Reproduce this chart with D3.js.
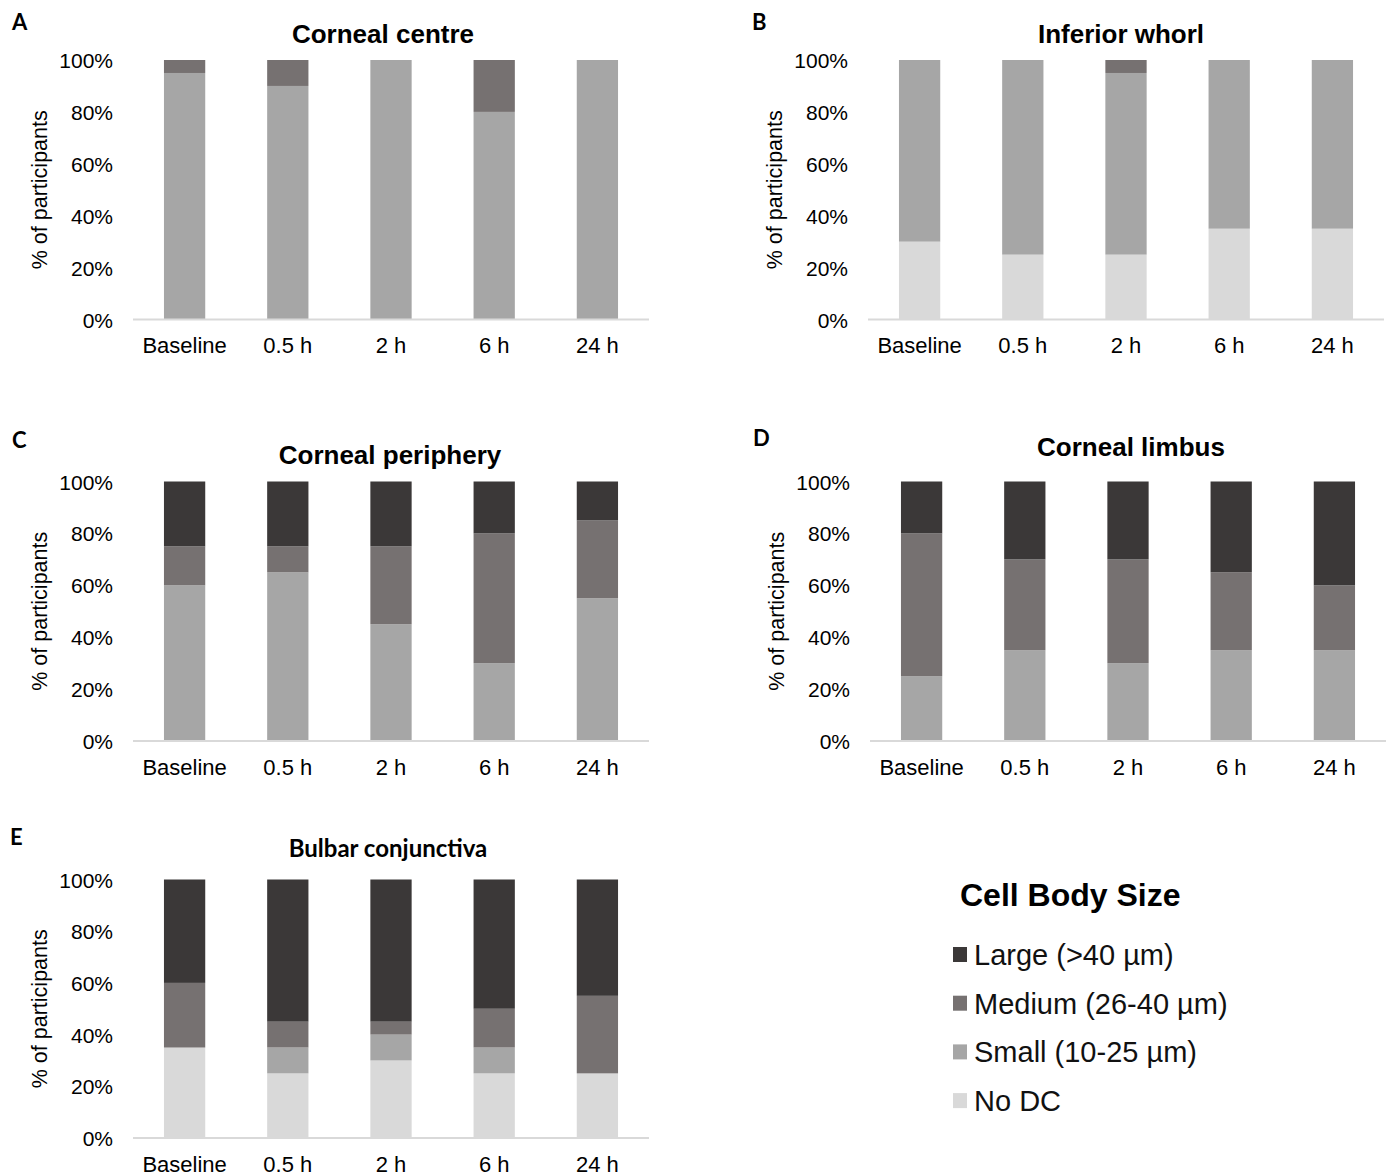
<!DOCTYPE html>
<html>
<head>
<meta charset="utf-8">
<script src="https://cdn.jsdelivr.net/npm/d3@7"></script>
<style>
  html, body { margin: 0; padding: 0; background: #fff; }
  svg { display: block; }
  .tick-label { font-family: "Liberation Sans", Arial, sans-serif; font-size: 21px; fill: #000; }
  .cat-label { font-family: "Liberation Sans", Arial, sans-serif; font-size: 22px; fill: #000; }
  .panel-title { font-family: "Liberation Sans", Arial, sans-serif; font-weight: bold; font-size: 26px; fill: #000; }
  .panel-letter { font-family: Lato, "Open Sans", sans-serif; font-weight: bold; font-size: 22px; fill: #000; }
</style>
</head>
<body>
<svg id="chart" width="1391" height="1176"></svg>
<script>
// Time points and size classes
const timepoints = ["Baseline", "0.5 h", "2 h", "6 h", "24 h"];
const sizeKeys = ["noDC", "small", "medium", "large"];
const sizeLabels = ["No DC", "Small (10-25 µm)", "Medium (26-40 µm)", "Large (>40 µm)"];
const sizeColors = ["#d9d9d9", "#a6a6a6", "#767171", "#3b3838"];
const yTicks = [0, 20, 40, 60, 80, 100];

// Percent of participants per time point, one array per size class
const centreNoDC   = [0, 0, 0, 0, 0];
const centreSmall  = [95, 90, 100, 80, 100];
const centreMedium = [5, 10, 0, 20, 0];
const centreLarge  = [0, 0, 0, 0, 0];

const whorlNoDC   = [30, 25, 25, 35, 35];
const whorlSmall  = [70, 75, 70, 65, 65];
const whorlMedium = [0, 0, 5, 0, 0];
const whorlLarge  = [0, 0, 0, 0, 0];

const peripheryNoDC   = [0, 0, 0, 0, 0];
const peripherySmall  = [60, 65, 45, 30, 55];
const peripheryMedium = [15, 10, 30, 50, 30];
const peripheryLarge  = [25, 25, 25, 20, 15];

const limbusNoDC   = [0, 0, 0, 0, 0];
const limbusSmall  = [25, 35, 30, 35, 35];
const limbusMedium = [55, 35, 40, 30, 25];
const limbusLarge  = [20, 30, 30, 35, 40];

const bulbarNoDC   = [35, 25, 30, 25, 25];
const bulbarSmall  = [0, 10, 10, 10, 0];
const bulbarMedium = [25, 10, 5, 15, 30];
const bulbarLarge  = [40, 55, 55, 50, 45];

function rows(noDC, small, medium, large) {
  return timepoints.map((t, i) => ({ time: t, noDC: noDC[i], small: small[i], medium: medium[i], large: large[i] }));
}

const panels = [
  { letter: "A", title: "Corneal centre", data: rows(centreNoDC, centreSmall, centreMedium, centreLarge),
    x0: 133, x1: 649, yTop: 60, yBot: 319.5, letterX: 12, letterY: 30, titleX: 383, titleY: 43, labelY: 353 },
  { letter: "B", title: "Inferior whorl", data: rows(whorlNoDC, whorlSmall, whorlMedium, whorlLarge),
    x0: 868, x1: 1384, yTop: 60, yBot: 319.5, letterX: 752, letterY: 30, titleX: 1121, titleY: 43, labelY: 353 },
  { letter: "C", title: "Corneal periphery", data: rows(peripheryNoDC, peripherySmall, peripheryMedium, peripheryLarge),
    x0: 133, x1: 649, yTop: 481.5, yBot: 741, letterX: 12, letterY: 448, titleX: 390, titleY: 464, labelY: 775 },
  { letter: "D", title: "Corneal limbus", data: rows(limbusNoDC, limbusSmall, limbusMedium, limbusLarge),
    x0: 870, x1: 1386, yTop: 481.5, yBot: 741, letterX: 753, letterY: 446, titleX: 1131, titleY: 456, labelY: 775 },
  { letter: "E", title: "Bulbar conjunctiva", data: rows(bulbarNoDC, bulbarSmall, bulbarMedium, bulbarLarge),
    x0: 133, x1: 649, yTop: 879.5, yBot: 1138, letterX: 10, letterY: 845, titleX: 388, titleY: 857, labelY: 1172, calibriTitle: true }
];

const svg = d3.select("#chart");
const color = d3.scaleOrdinal().domain(sizeKeys).range(sizeColors);
const stack = d3.stack().keys(sizeKeys);

panels.forEach(p => {
  const g = svg.append("g");
  const x = d3.scaleBand().domain(timepoints).range([p.x0, p.x1]).paddingInner(0.6).paddingOuter(0.3);
  const y = d3.scaleLinear().domain([0, 100]).range([p.yBot, p.yTop]);

  // stacked bars
  const series = stack(p.data);
  g.selectAll("g.layer").data(series).join("g")
    .attr("class", "layer")
    .attr("fill", d => color(d.key))
    .selectAll("rect").data(d => d).join("rect")
      .attr("x", d => x(d.data.time))
      .attr("width", x.bandwidth())
      .attr("y", d => y(d[1]))
      .attr("height", d => Math.max(0, y(d[0]) - y(d[1])));

  // category axis line and labels
  const xAxis = g.append("g").attr("transform", `translate(0,${p.yBot})`)
    .call(d3.axisBottom(x).tickSize(0).tickPadding(0));
  xAxis.select(".domain").attr("stroke", "#d9d9d9").attr("stroke-width", 2)
    .attr("d", `M${p.x0},0H${p.x1}`);
  xAxis.selectAll(".tick text").attr("class", "cat-label")
    .attr("y", p.labelY - p.yBot).attr("dy", 0)
    .attr("font-family", null).attr("font-size", null).attr("fill", null);

  // value axis labels
  const yAxis = g.append("g").attr("transform", `translate(${p.x0 - 20},0)`)
    .call(d3.axisLeft(y).tickValues(yTicks).tickFormat(d => d + "%").tickSize(0).tickPadding(0));
  yAxis.select(".domain").remove();
  yAxis.selectAll(".tick text").attr("class", "tick-label")
    .attr("font-family", null).attr("font-size", null).attr("fill", null)
    .attr("dy", "0.36em");

  // axis title
  g.append("text")
    .attr("class", "tick-label")
    .attr("transform", `translate(${p.x0 - 86},${(p.yTop + p.yBot) / 2}) rotate(-90)`)
    .attr("text-anchor", "middle")
    .style("font-size", "21.5px")
    .text("% of participants");

  // panel title and letter
  g.append("text")
    .attr("class", p.calibriTitle ? "panel-letter" : "panel-title")
    .attr("x", p.titleX).attr("y", p.titleY)
    .attr("text-anchor", "middle")
    .style("font-size", p.calibriTitle ? "24px" : null)
    .text(p.title);
  g.append("text")
    .attr("class", "panel-letter")
    .attr("x", p.letterX).attr("y", p.letterY)
    .text(p.letter);
});

// legend
const legend = svg.append("g");
legend.append("text")
  .attr("x", 960).attr("y", 906)
  .attr("font-family", "'Liberation Sans', Arial, sans-serif")
  .attr("font-weight", "bold").attr("font-size", 32)
  .text("Cell Body Size");

const legendOrder = [3, 2, 1, 0];
const legendItems = legend.selectAll("g.item").data(legendOrder).join("g")
  .attr("class", "item")
  .attr("transform", (d, i) => `translate(953,${955 + i * 48.7})`);
legendItems.append("rect")
  .attr("x", 0).attr("y", -8).attr("width", 14).attr("height", 15)
  .attr("fill", d => sizeColors[d]);
legendItems.append("text")
  .attr("x", 21).attr("y", 10)
  .attr("font-family", "'Liberation Sans', Arial, sans-serif")
  .attr("font-size", 29)
  .attr("fill", "#111")
  .text(d => sizeLabels[d]);
</script>
</body>
</html>
